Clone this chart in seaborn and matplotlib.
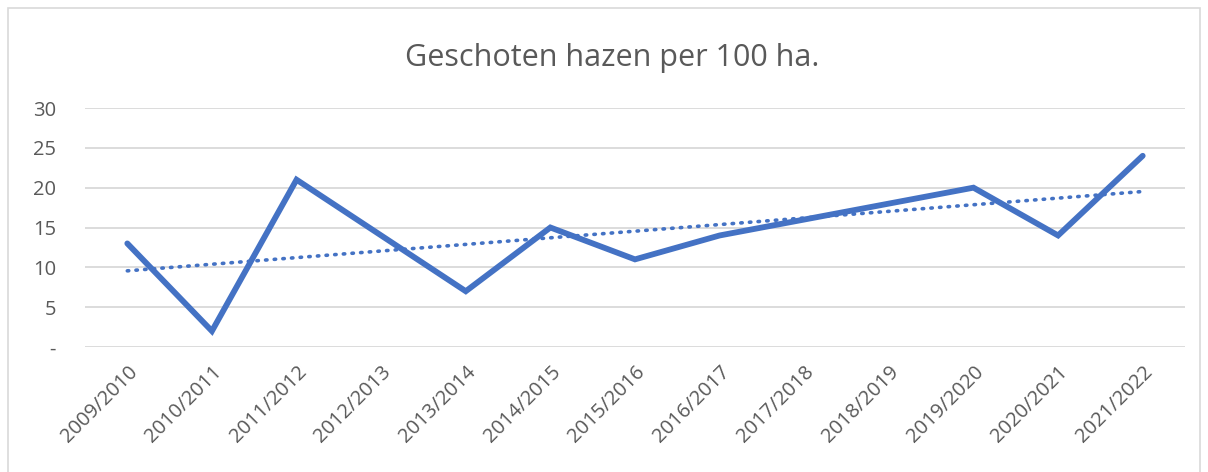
import numpy as np
import pandas as pd
import seaborn as sns
import matplotlib
matplotlib.use("Agg")
import matplotlib.pyplot as plt
from matplotlib.patches import Rectangle

seasons = ["2009/2010", "2010/2011", "2011/2012", "2012/2013", "2013/2014",
           "2014/2015", "2015/2016", "2016/2017", "2017/2018", "2018/2019",
           "2019/2020", "2020/2021", "2021/2022"]
hazen = [13, 2, 21, 14, 7, 15, 11, 14, 16, 18, 20, 14, 24]
ytick_vals = [0, 5, 10, 15, 20, 25, 30]
ytick_labels = ["-", "5", "10", "15", "20", "25", "30"]

blue = "#4472C4"
grey = "#595959"

sns.set_theme(style="white")
plt.rcParams["font.family"] = ["Open Sans", "DejaVu Sans"]

df = pd.DataFrame({"x": np.arange(len(seasons)), "seizoen": seasons, "hazen": hazen})

# lineaire trendlijn zoals in Excel
coef = np.polyfit(df["x"], df["hazen"], 1)
df["trend"] = np.polyval(coef, df["x"])

fig = plt.figure(figsize=(12.08, 4.72), dpi=100)
ax = fig.add_axes([85 / 1208, 1 - 347 / 472, 1100 / 1208, 239 / 472])

sns.lineplot(data=df, x="x", y="trend", ax=ax, color=blue, lw=2.6,
             linestyle=(0, (0.4, 2.0)), dash_capstyle="round")
sns.lineplot(data=df, x="x", y="hazen", ax=ax, color=blue, lw=4.2,
             solid_joinstyle="miter")

ax.set_xlim(-0.5, len(seasons) - 0.5)
ax.set_ylim(0, 30)
ax.set_yticks(ytick_vals)
ax.set_yticklabels(ytick_labels)
ax.set_xticks(df["x"])
ax.set_xticklabels(seasons, rotation=45, ha="right", rotation_mode="anchor")
ax.tick_params(axis="both", length=0, labelsize=14.5, labelcolor=grey)
ax.tick_params(axis="y", pad=21)
ax.tick_params(axis="x", pad=11)
ax.grid(axis="y", color="#D9D9D9", lw=1.3)
ax.set_axisbelow(True)
for s in ax.spines.values():
    s.set_visible(False)
ax.set_xlabel("")
ax.set_ylabel("")

fig.text(612 / 1208, 1 - 58 / 472, "Geschoten hazen per 100 ha.", ha="center",
         va="center", fontsize=22, color=grey)

fig.patches.append(Rectangle((8 / 1208, -0.01), 1192 / 1208, 1 - 8 / 472 + 0.01,
                             transform=fig.transFigure, fill=False,
                             edgecolor="#D9D9D9", lw=1.2))

fig.savefig("out.png", dpi=100)
